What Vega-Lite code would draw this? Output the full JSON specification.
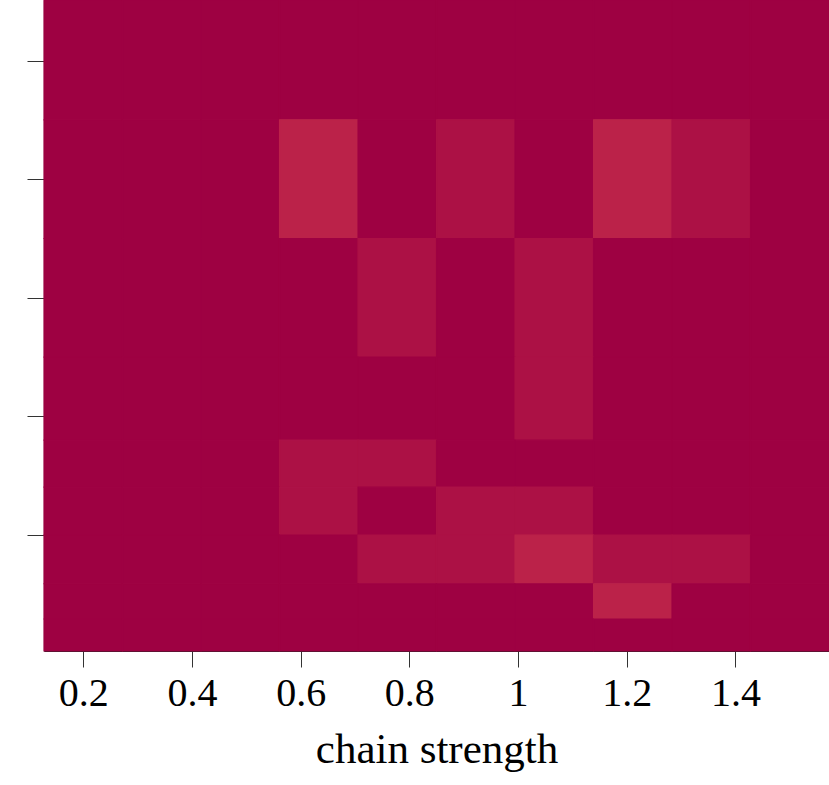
{
  "$schema": "https://vega.github.io/schema/vega-lite/v6.json",
  "width": 785,
  "height": 651,
  "autosize": {"type": "none"},
  "padding": {"left": 44, "top": 0, "right": 0, "bottom": 134},
  "background": "white",
  "config": {
    "view": {"stroke": null},
    "axis": {"grid": false, "domain": true, "domainColor": "#222222", "domainWidth": 1.2}
  },
  "datasets": {
    "cols": [
      {"col": 0, "x0": 0.1278, "x1": 0.2722},
      {"col": 1, "x0": 0.2722, "x1": 0.4167},
      {"col": 2, "x0": 0.4167, "x1": 0.5611},
      {"col": 3, "x0": 0.5611, "x1": 0.7056},
      {"col": 4, "x0": 0.7056, "x1": 0.85},
      {"col": 5, "x0": 0.85, "x1": 0.9944},
      {"col": 6, "x0": 0.9944, "x1": 1.1389},
      {"col": 7, "x0": 1.1389, "x1": 1.2833},
      {"col": 8, "x0": 1.2833, "x1": 1.4278},
      {"col": 9, "x0": 1.4278, "x1": 1.5722}
    ],
    "rows": [
      {"row": 0, "y0": 3.5, "y1": 4.51},
      {"row": 1, "y0": 2.5, "y1": 3.5},
      {"row": 2, "y0": 1.5, "y1": 2.5},
      {"row": 3, "y0": 0.8, "y1": 1.5},
      {"row": 4, "y0": 0.404, "y1": 0.8},
      {"row": 5, "y0": 0, "y1": 0.404},
      {"row": 6, "y0": -0.41, "y1": 0},
      {"row": 7, "y0": -0.707, "y1": -0.41},
      {"row": 8, "y0": -0.977, "y1": -0.707}
    ],
    "cells": [
      {"row":0,"col":0,"level":0},{"row":0,"col":1,"level":0},{"row":0,"col":2,"level":0},{"row":0,"col":3,"level":0},{"row":0,"col":4,"level":0},{"row":0,"col":5,"level":0},{"row":0,"col":6,"level":0},{"row":0,"col":7,"level":0},{"row":0,"col":8,"level":0},{"row":0,"col":9,"level":0},
      {"row":1,"col":0,"level":0},{"row":1,"col":1,"level":0},{"row":1,"col":2,"level":0},{"row":1,"col":3,"level":2},{"row":1,"col":4,"level":0},{"row":1,"col":5,"level":1},{"row":1,"col":6,"level":0},{"row":1,"col":7,"level":2},{"row":1,"col":8,"level":1},{"row":1,"col":9,"level":0},
      {"row":2,"col":0,"level":0},{"row":2,"col":1,"level":0},{"row":2,"col":2,"level":0},{"row":2,"col":3,"level":0},{"row":2,"col":4,"level":1},{"row":2,"col":5,"level":0},{"row":2,"col":6,"level":1},{"row":2,"col":7,"level":0},{"row":2,"col":8,"level":0},{"row":2,"col":9,"level":0},
      {"row":3,"col":0,"level":0},{"row":3,"col":1,"level":0},{"row":3,"col":2,"level":0},{"row":3,"col":3,"level":0},{"row":3,"col":4,"level":0},{"row":3,"col":5,"level":0},{"row":3,"col":6,"level":1},{"row":3,"col":7,"level":0},{"row":3,"col":8,"level":0},{"row":3,"col":9,"level":0},
      {"row":4,"col":0,"level":0},{"row":4,"col":1,"level":0},{"row":4,"col":2,"level":0},{"row":4,"col":3,"level":1},{"row":4,"col":4,"level":1},{"row":4,"col":5,"level":0},{"row":4,"col":6,"level":0},{"row":4,"col":7,"level":0},{"row":4,"col":8,"level":0},{"row":4,"col":9,"level":0},
      {"row":5,"col":0,"level":0},{"row":5,"col":1,"level":0},{"row":5,"col":2,"level":0},{"row":5,"col":3,"level":1},{"row":5,"col":4,"level":0},{"row":5,"col":5,"level":1},{"row":5,"col":6,"level":1},{"row":5,"col":7,"level":0},{"row":5,"col":8,"level":0},{"row":5,"col":9,"level":0},
      {"row":6,"col":0,"level":0},{"row":6,"col":1,"level":0},{"row":6,"col":2,"level":0},{"row":6,"col":3,"level":0},{"row":6,"col":4,"level":1},{"row":6,"col":5,"level":1},{"row":6,"col":6,"level":2},{"row":6,"col":7,"level":1},{"row":6,"col":8,"level":1},{"row":6,"col":9,"level":0},
      {"row":7,"col":0,"level":0},{"row":7,"col":1,"level":0},{"row":7,"col":2,"level":0},{"row":7,"col":3,"level":0},{"row":7,"col":4,"level":0},{"row":7,"col":5,"level":0},{"row":7,"col":6,"level":0},{"row":7,"col":7,"level":2},{"row":7,"col":8,"level":0},{"row":7,"col":9,"level":0},
      {"row":8,"col":0,"level":0},{"row":8,"col":1,"level":0},{"row":8,"col":2,"level":0},{"row":8,"col":3,"level":0},{"row":8,"col":4,"level":0},{"row":8,"col":5,"level":0},{"row":8,"col":6,"level":0},{"row":8,"col":7,"level":0},{"row":8,"col":8,"level":0},{"row":8,"col":9,"level":0}
    ]
  },
  "data": {"name": "cells"},
  "transform": [
    {"lookup": "col", "from": {"data": {"name": "cols"}, "key": "col", "fields": ["x0", "x1"]}},
    {"lookup": "row", "from": {"data": {"name": "rows"}, "key": "row", "fields": ["y0", "y1"]}}
  ],
  "mark": {"type": "rect", "strokeWidth": 1.1},
  "encoding": {
    "x": {
      "field": "x0", "type": "quantitative",
      "scale": {"domain": [0.1278, 1.5722], "nice": false, "zero": false},
      "axis": {
        "title": "chain strength",
        "values": [0.2, 0.4, 0.6, 0.8, 1, 1.2, 1.4],
        "format": "~g",
        "tickSize": 16, "tickColor": "#333333", "tickWidth": 1,
        "labelFont": "Liberation Serif", "labelFontSize": 40, "labelColor": "#000000",
        "labelPadding": 6, "labelFlush": false, "labelOverlap": false,
        "titleFont": "Liberation Serif", "titleFontSize": 43, "titleFontWeight": "normal", "titleColor": "#000000",
        "titlePadding": 15
      }
    },
    "x2": {"field": "x1"},
    "y": {
      "field": "y0", "type": "quantitative",
      "scale": {"domain": [-0.977, 4.51], "nice": false, "zero": false},
      "axis": {
        "title": null,
        "values": [0, 1, 2, 3, 4],
        "labels": false,
        "tickSize": 17, "tickColor": "#333333", "tickWidth": 1
      }
    },
    "y2": {"field": "y1"},
    "color": {
      "field": "level", "type": "ordinal",
      "scale": {"domain": [0, 1, 2], "range": ["#9e0142", "#ac1145", "#bb2249"]},
      "legend": null
    },
    "stroke": {
      "field": "level", "type": "ordinal",
      "scale": {"domain": [0, 1, 2], "range": ["#9e0142", "#ac1145", "#bb2249"]},
      "legend": null
    }
  }
}
